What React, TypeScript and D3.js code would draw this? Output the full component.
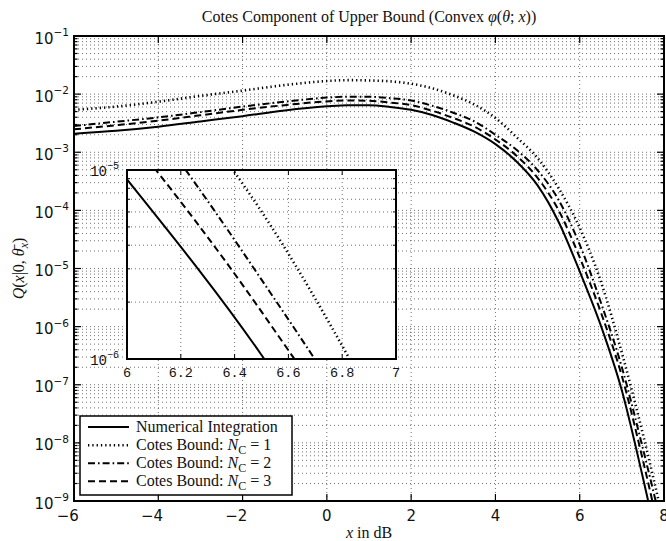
import React from 'react';
import * as d3 from 'd3';

// SNR grid (dB) on which every series is sampled
const X_DB = [-6, -5, -4, -3, -2, -1, 0, 0.5, 1, 1.5, 2, 2.5, 3, 3.5, 4, 4.5, 5, 5.5, 6, 6.5, 7, 7.5, 8];

// Q(x | 0, theta_x) from numerical integration
const NUMERICAL = [
  2.09e-3, 2.34e-3, 2.75e-3, 3.39e-3, 4.17e-3, 5.25e-3, 6.17e-3, 6.46e-3, 6.46e-3, 6.03e-3,
  5.37e-3, 4.37e-3, 3.24e-3, 2.26e-3, 1.38e-3, 6.92e-4, 2.69e-4, 6.31e-5, 8.91e-6, 1.05e-6,
  7.94e-8, 2.51e-9, 6.3e-11,
];
// Cotes bound, N_C = 1
const COTES_N1 = [
  5.37e-3, 6.1e-3, 7.41e-3, 9.33e-3, 1.15e-2, 1.43e-2, 1.68e-2, 1.74e-2, 1.72e-2, 1.66e-2,
  1.51e-2, 1.26e-2, 9.55e-3, 6.61e-3, 3.89e-3, 1.82e-3, 7.94e-4, 2.4e-4, 5.01e-5, 6.03e-6,
  3.55e-7, 1.41e-8, 3.98e-10,
];
// Cotes bound, N_C = 2
const COTES_N2 = [
  2.82e-3, 3.35e-3, 3.98e-3, 4.9e-3, 6.1e-3, 7.41e-3, 8.71e-3, 9.02e-3, 9.02e-3, 8.51e-3,
  7.76e-3, 6.31e-3, 4.79e-3, 3.39e-3, 2.0e-3, 1.1e-3, 4.9e-4, 1.51e-4, 2.57e-5, 2.63e-6,
  2.0e-7, 7.94e-9, 2.51e-10,
];
// Cotes bound, N_C = 3
const COTES_N3 = [
  2.48e-3, 2.92e-3, 3.49e-3, 4.32e-3, 5.37e-3, 6.46e-3, 7.5e-3, 7.76e-3, 7.67e-3, 7.16e-3,
  6.46e-3, 5.19e-3, 3.89e-3, 2.75e-3, 1.66e-3, 8.71e-4, 3.63e-4, 1.0e-4, 1.55e-5, 1.78e-6,
  1.41e-7, 5.01e-9, 1.26e-10,
];

const X_TICKS = [-6, -4, -2, 0, 2, 4, 6, 8];
const Y_DECADES = [-9, -8, -7, -6, -5, -4, -3, -2, -1];
const INSET_X_TICKS = [6, 6.2, 6.4, 6.6, 6.8, 7];
const INSET_Y_DECADES = [-6, -5];
const MINOR_MULTIPLES = [2, 3, 4, 5, 6, 7, 8, 9];

type Series = { key: string; values: number[]; dash: string | undefined; width: number; nc: number | null };
const SERIES: Series[] = [
  { key: 'num', values: NUMERICAL, dash: undefined, width: 2, nc: null },
  { key: 'n1', values: COTES_N1, dash: '1.3 3', width: 2.6, nc: 1 },
  { key: 'n2', values: COTES_N2, dash: '7 3 1.6 3', width: 2, nc: 2 },
  { key: 'n3', values: COTES_N3, dash: '7 4', width: 2, nc: 3 },
];

const W = 666;
const H = 541;
const PLOT = { left: 74, right: 664, top: 36, bottom: 501 };
const INSET = { left: 127, right: 396, top: 170, bottom: 359 };

const SANS = 'DejaVu Sans';
const SERIF = 'Liberation Serif';
const MONO = 'Liberation Mono';
const GRID = { stroke: '#333', strokeWidth: 0.7, strokeDasharray: '1 3' };

export default function App() {
  const x = d3.scaleLinear().domain([-6, 8]).range([PLOT.left, PLOT.right]);
  const y = d3.scaleLog().domain([1e-9, 1e-1]).range([PLOT.bottom, PLOT.top]);
  const ix = d3.scaleLinear().domain([6, 7]).range([INSET.left, INSET.right]);
  const iy = d3.scaleLog().domain([1e-6, 1e-5]).range([INSET.bottom, INSET.top]);

  const mainLine = d3
    .line<number>()
    .x((_, i) => x(X_DB[i]))
    .y((d) => y(d))
    .curve(d3.curveMonotoneX);
  const insetLine = d3
    .line<number>()
    .x((_, i) => ix(X_DB[i]))
    .y((d) => iy(d))
    .curve(d3.curveMonotoneX);

  const majorY = Y_DECADES.map((e) => Math.pow(10, e));
  const minorY: number[] = [];
  Y_DECADES.slice(0, -1).forEach((e) => MINOR_MULTIPLES.forEach((m) => minorY.push(m * Math.pow(10, e))));
  const insetMinorY = MINOR_MULTIPLES.map((m) => m * 1e-6);

  const legendRows = [427, 445.3, 463.3, 481.3];

  return (
    <svg width={W} height={H} style={{ position: 'absolute', left: 0, top: 0, background: '#fff' }}>
      <defs>
        <clipPath id="plotClip">
          <rect x={PLOT.left} y={PLOT.top} width={PLOT.right - PLOT.left} height={PLOT.bottom - PLOT.top} />
        </clipPath>
        <clipPath id="insetClip">
          <rect x={INSET.left} y={INSET.top} width={INSET.right - INSET.left} height={INSET.bottom - INSET.top} />
        </clipPath>
      </defs>
      <rect x={0} y={0} width={W} height={H} fill="#fff" />

      {/* main grid */}
      <g {...GRID} fill="none">
        {[...majorY, ...minorY].map((v, i) => (
          <line key={'gy' + i} x1={PLOT.left} x2={PLOT.right} y1={y(v)} y2={y(v)} />
        ))}
        {X_TICKS.slice(1, -1).map((v) => (
          <line key={'gx' + v} x1={x(v)} x2={x(v)} y1={PLOT.top} y2={PLOT.bottom} />
        ))}
      </g>

      {/* main curves */}
      <g clipPath="url(#plotClip)" fill="none" stroke="#000">
        {SERIES.map((s) => (
          <path key={s.key} d={mainLine(s.values) || ''} strokeWidth={s.width} strokeDasharray={s.dash} />
        ))}
      </g>

      {/* main ticks */}
      <g stroke="#000" strokeWidth={1.2}>
        {X_TICKS.map((v) => (
          <g key={'tx' + v}>
            <line x1={x(v)} x2={x(v)} y1={PLOT.bottom} y2={PLOT.bottom - 7} />
            <line x1={x(v)} x2={x(v)} y1={PLOT.top} y2={PLOT.top + 7} />
          </g>
        ))}
        {majorY.map((v, i) => (
          <g key={'ty' + i}>
            <line x1={PLOT.left} x2={PLOT.left + 7} y1={y(v)} y2={y(v)} />
            <line x1={PLOT.right} x2={PLOT.right - 7} y1={y(v)} y2={y(v)} />
          </g>
        ))}
        {minorY.map((v, i) => (
          <g key={'tm' + i}>
            <line x1={PLOT.left} x2={PLOT.left + 3.5} y1={y(v)} y2={y(v)} />
            <line x1={PLOT.right} x2={PLOT.right - 3.5} y1={y(v)} y2={y(v)} />
          </g>
        ))}
      </g>

      {/* main frame */}
      <rect
        x={PLOT.left}
        y={PLOT.top}
        width={PLOT.right - PLOT.left}
        height={PLOT.bottom - PLOT.top}
        fill="none"
        stroke="#000"
        strokeWidth={2}
      />

      {/* main tick labels */}
      <g fontFamily={SANS} fontSize={15} fill="#111">
        {X_TICKS.map((v) => (
          <text key={'lx' + v} x={x(v) + 4.8} y={520.5} textAnchor="end">
            {v < 0 ? '\u2212' + Math.abs(v) : String(v)}
          </text>
        ))}
        {Y_DECADES.map((e) => (
          <text key={'ly' + e} x={69} y={y(Math.pow(10, e)) + 7.5} textAnchor="end">
            <tspan>10</tspan>
            <tspan dy={-7.5} fontSize={10.5}>{'\u2212' + Math.abs(e)}</tspan>
          </text>
        ))}
      </g>

      {/* inset */}
      <rect
        x={INSET.left}
        y={INSET.top}
        width={INSET.right - INSET.left}
        height={INSET.bottom - INSET.top}
        fill="#fff"
      />
      <g {...GRID} fill="none">
        {insetMinorY.map((v, i) => (
          <line key={'igy' + i} x1={INSET.left} x2={INSET.right} y1={iy(v)} y2={iy(v)} />
        ))}
        {INSET_X_TICKS.slice(1, -1).map((v) => (
          <line key={'igx' + v} x1={ix(v)} x2={ix(v)} y1={INSET.top} y2={INSET.bottom} />
        ))}
      </g>
      <g clipPath="url(#insetClip)" fill="none" stroke="#000">
        {SERIES.map((s) => (
          <path key={'i' + s.key} d={insetLine(s.values) || ''} strokeWidth={s.width} strokeDasharray={s.dash} />
        ))}
      </g>
      <g stroke="#000" strokeWidth={1}>
        {INSET_X_TICKS.map((v) => (
          <g key={'itx' + v}>
            <line x1={ix(v)} x2={ix(v)} y1={INSET.bottom} y2={INSET.bottom - 5} />
            <line x1={ix(v)} x2={ix(v)} y1={INSET.top} y2={INSET.top + 5} />
          </g>
        ))}
        {insetMinorY.map((v, i) => (
          <g key={'ity' + i}>
            <line x1={INSET.left} x2={INSET.left + 3} y1={iy(v)} y2={iy(v)} />
            <line x1={INSET.right} x2={INSET.right - 3} y1={iy(v)} y2={iy(v)} />
          </g>
        ))}
      </g>
      <rect
        x={INSET.left}
        y={INSET.top}
        width={INSET.right - INSET.left}
        height={INSET.bottom - INSET.top}
        fill="none"
        stroke="#000"
        strokeWidth={2}
      />
      <g fontFamily={MONO} fontSize={13.5} fill="#111">
        {INSET_X_TICKS.map((v) => (
          <text key={'ilx' + v} x={ix(v)} y={377} textAnchor="middle">
            {Number.isInteger(v) ? String(v) : v.toFixed(1)}
          </text>
        ))}
        {INSET_Y_DECADES.map((e) => (
          <text key={'ily' + e} x={119} y={iy(Math.pow(10, e)) + 5.5} textAnchor="end" fontSize={14}>
            <tspan>10</tspan>
            <tspan dy={-7} fontSize={10}>{'\u2212' + Math.abs(e)}</tspan>
          </text>
        ))}
      </g>

      {/* legend */}
      <rect x={80} y={416} width={212} height={79} fill="#fff" stroke="#000" strokeWidth={1.5} />
      {SERIES.map((s, i) => (
        <g key={'lg' + s.key}>
          <line
            x1={88}
            x2={129}
            y1={legendRows[i]}
            y2={legendRows[i]}
            stroke="#000"
            strokeWidth={s.width}
            strokeDasharray={s.dash}
          />
          <text x={136} y={legendRows[i] + 5} fontFamily={SERIF} fontSize={16} fill="#111">
            {s.nc === null ? (
              'Numerical Integration'
            ) : (
              <>
                <tspan>{'Cotes Bound: '}</tspan>
                <tspan fontStyle="italic">N</tspan>
                <tspan dy={4} fontSize={12}>C</tspan>
                <tspan dy={-4}>{' = ' + s.nc}</tspan>
              </>
            )}
          </text>
        </g>
      ))}

      {/* title and axis labels */}
      <text x={(PLOT.left + PLOT.right) / 2} y={22} textAnchor="middle" fontFamily={SERIF} fontSize={16} fill="#111">
        <tspan>{'Cotes Component of Upper Bound (Convex '}</tspan>
        <tspan fontStyle="italic">{'\u03C6'}</tspan>
        <tspan>(</tspan>
        <tspan fontStyle="italic">{'\u03B8'}</tspan>
        <tspan>{'; '}</tspan>
        <tspan fontStyle="italic">x</tspan>
        <tspan>))</tspan>
      </text>
      <text x={(PLOT.left + PLOT.right) / 2} y={538} textAnchor="middle" fontFamily={SERIF} fontSize={16} fill="#111">
        <tspan fontStyle="italic">x</tspan>
        <tspan>{' in dB'}</tspan>
      </text>
      <text
        transform={`translate(24,${(PLOT.top + PLOT.bottom) / 2}) rotate(-90)`}
        textAnchor="middle"
        fontFamily={SERIF}
        fontSize={16}
        fill="#111"
      >
        <tspan fontStyle="italic">Q</tspan>
        <tspan>(</tspan>
        <tspan fontStyle="italic">x</tspan>
        <tspan>{'|0, '}</tspan>
        <tspan fontStyle="italic">{'\u03B8\u0304'}</tspan>
        <tspan dy={4} fontSize={12} fontStyle="italic">x</tspan>
        <tspan dy={-4}>)</tspan>
      </text>
    </svg>
  );
}
